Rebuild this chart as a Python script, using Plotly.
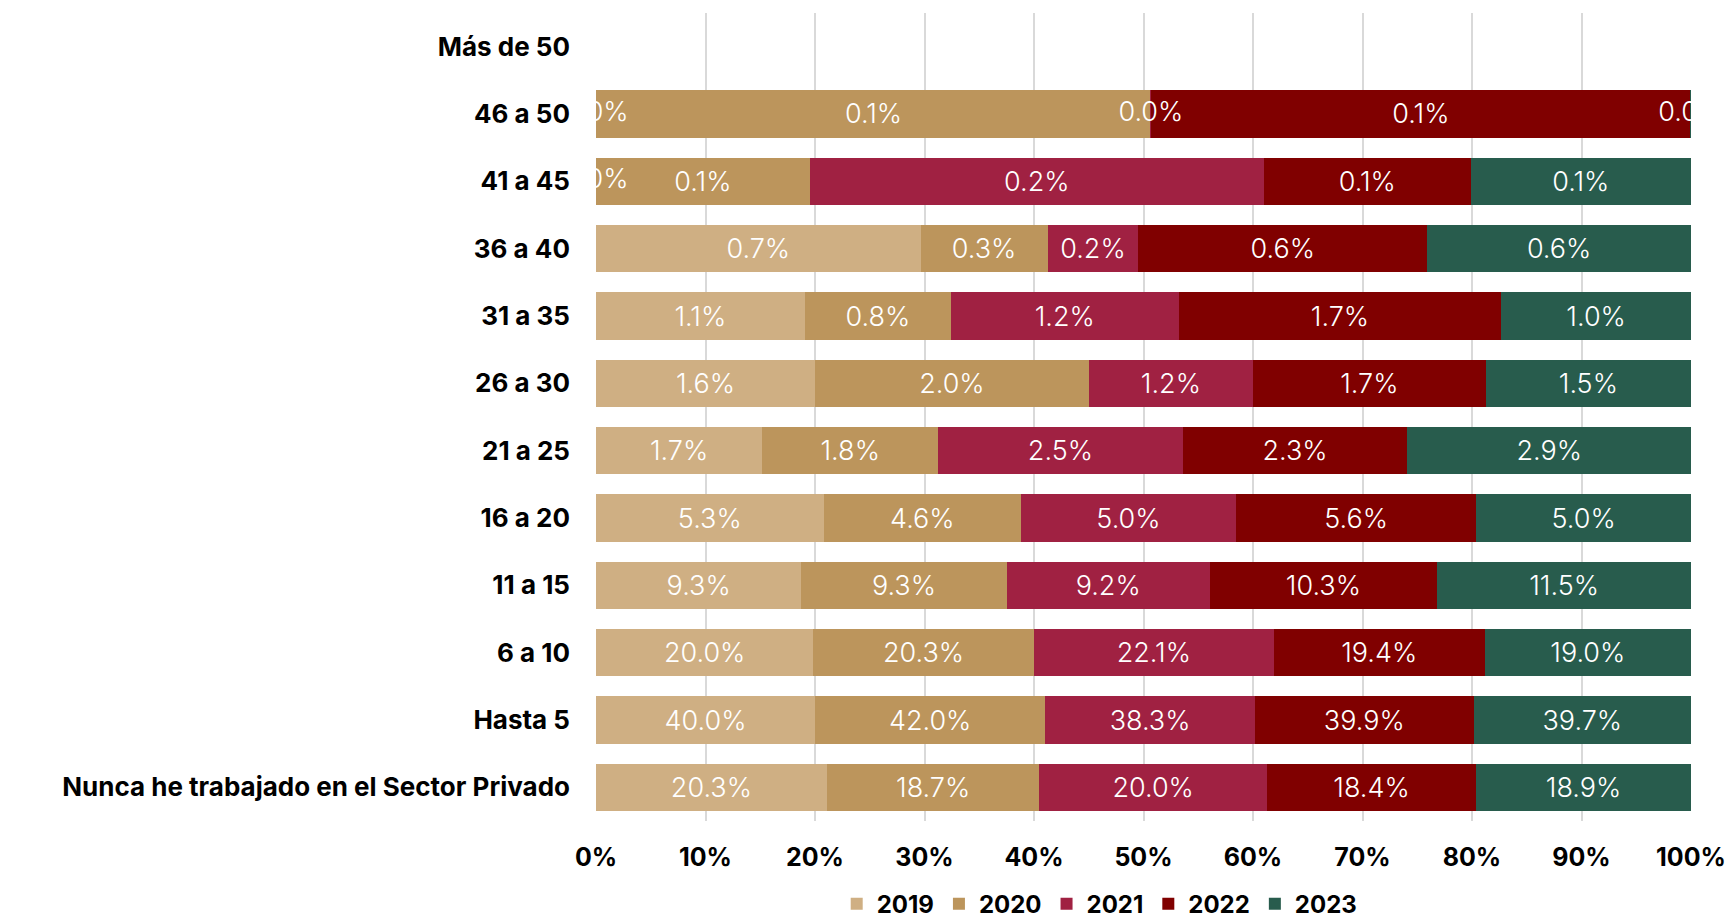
import plotly.graph_objects as go

categories = ["Más de 50", "46 a 50", "41 a 45", "36 a 40", "31 a 35", "26 a 30",
              "21 a 25", "16 a 20", "11 a 15", "6 a 10", "Hasta 5",
              "Nunca he trabajado en el Sector Privado"]
years = ["2019", "2020", "2021", "2022", "2023"]

v2019 = [0.0, 0.00005, 0.00005, 0.70, 1.1, 1.6, 1.7, 5.3, 9.3, 20.0, 40.0, 20.3]
v2020 = [0.0, 0.075, 0.094, 0.274, 0.77, 2.0, 1.8, 4.6, 9.3, 20.3, 42.0, 18.7]
v2021 = [0.0, 0.00005, 0.20, 0.196, 1.2, 1.2, 2.5, 5.0, 9.2, 22.1, 38.3, 20.0]
v2022 = [0.0, 0.073, 0.091, 0.623, 1.7, 1.7, 2.3, 5.6, 10.3, 19.4, 39.9, 18.4]
v2023 = [0.0, 0.00005, 0.097, 0.569, 1.0, 1.5, 2.9, 5.0, 11.5, 19.0, 39.7, 18.9]

series = [v2019, v2020, v2021, v2022, v2023]
colors = ["#CFAF83", "#BC955C", "#A02142", "#800000", "#285C4D"]

FONT = "Inter"
TINY = 0.01

fig = go.Figure()
for yr, vals, col in zip(years, series, colors):
    txt = [("" if v < TINY else f"{v:.1f}%") for v in vals]
    fig.add_trace(go.Bar(
        y=categories, x=vals, name=yr, orientation="h",
        marker=dict(color=col, line=dict(width=0)),
        text=txt, textposition="inside", insidetextanchor="middle", textangle=0,
        textfont=dict(color="white", size=27, family=FONT, weight=300),
        cliponaxis=True, hoverinfo="skip",
    ))

# labels of near-zero segments, drawn on top of all bars (centred on the segment)
tx, ty, tt = [], [], []
for i, cat in enumerate(categories):
    total = sum(s[i] for s in series)
    if total <= 0:
        continue
    cum = 0.0
    for s in series:
        v = s[i]
        if 0 < v < TINY:
            tx.append((cum + v / 2) / total * 100)
            ty.append(cat)
            tt.append(f"{v:.1f}%")
        cum += v
fig.add_trace(go.Scatter(
    x=tx, y=ty, text=tt, mode="text", showlegend=False, hoverinfo="skip",
    textposition="middle center", cliponaxis=True,
    textfont=dict(color="white", size=27, family=FONT, weight=300),
))

fig.update_layout(
    barmode="stack", barnorm="percent", bargap=0.295,
    width=1730, height=922,
    margin=dict(l=596, r=39, t=13, b=101, autoexpand=False),
    paper_bgcolor="white", plot_bgcolor="white",
    uniformtext=dict(mode="show", minsize=27),
    font=dict(family=FONT, color="black"),
    legend=dict(orientation="h", x=0.46, xanchor="center", y=-0.103, yanchor="middle",
                font=dict(size=24, family=FONT, weight=700, color="black"),
                itemwidth=30, traceorder="normal", tracegroupgap=0),
    showlegend=True,
)
fig.update_xaxes(range=[0, 100], dtick=10, ticksuffix="%",
                 showgrid=True, gridcolor="#D9D9D9", gridwidth=2,
                 zeroline=False, showline=False,
                 tickfont=dict(size=25, family=FONT, weight=700, color="black"),
                 ticklabelstandoff=19, fixedrange=True)
fig.update_yaxes(autorange="reversed", showgrid=False, showline=False,
                 tickfont=dict(size=26, family=FONT, weight=700, color="black"),
                 ticklabelstandoff=25, fixedrange=True)

fig.write_html("out.html")
